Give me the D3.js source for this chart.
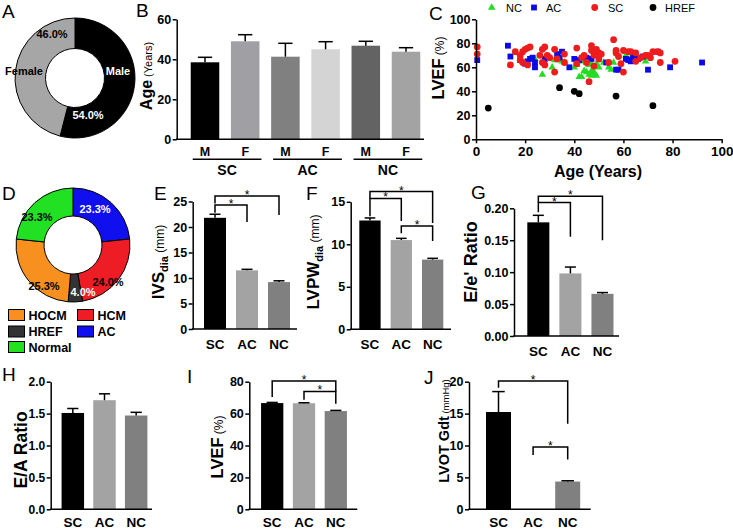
<!DOCTYPE html>
<html>
<head>
<meta charset="utf-8">
<script src="https://cdn.jsdelivr.net/npm/d3@7"></script>
<style>
  body { margin: 0; background: #fff; }
  svg { display: block; }
  text { font-family: "Liberation Sans", Arial, sans-serif; fill: #000; }
</style>
</head>
<body>
<script>
// ---------- data ----------
// A: sex distribution
var sexNames = ["Male", "Female"];
var sexPct = [54.0, 46.0];

// B: age by group and sex
var ageGroups = ["SC", "AC", "NC"];
var ageBars = ["SC-M", "SC-F", "AC-M", "AC-F", "NC-M", "NC-F"];
var ageSex = ["M", "F", "M", "F", "M", "F"];
var ageMean = [38.5, 49.0, 41.3, 45.0, 46.8, 43.8];
var ageSem = [2.5, 3.3, 6.7, 3.8, 2.2, 2.0];
var ageTicks = [0, 20, 40, 60];

// C: LVEF vs age, [age, lvef]
var ncPts = [[24,67],[27,54],[31,60],[32,66],[33,69],[35,65],[36,64],[40,60],[41,62],[42,52],[43,52],
  [43,65],[44,57],[44,68],[45,64],[45,56],[46,62],[46,54],[47,57],[47,63],[47,53],[48,56],[48,54],
  [49,53],[49,63],[50,60],[50,66],[52,64],[54,60],[55,58],[56,64],[61,70],[63,68],[67,68],[69,65]];
var acPts = [[0.5,66],[13,78],[14,69],[18,66],[20,63],[21,65],[22,67],[23,68],[24,60],[24,64],[28,67],
  [33,71],[34,68],[35,73],[38,60],[40,67],[41,65],[42,66],[45,68],[47,67],[50,69],[53,64],[57,58],
  [58,58],[61,67],[62,66],[63,65],[64,70],[64,67],[65,66],[66,67],[68,69],[70,58],[74,73],[79,60],[92,64]];
var scPts = [[0.5,77],[0.5,71],[14,62],[16,73],[18,70],[18,66],[19,73],[20,75],[19,64],[21,76],[22,77],
  [21,62],[26,70],[27,75],[28,77],[27,64],[28,62],[29,70],[30,68],[32,56],[32,75],[33,67],[36,71],
  [36,64],[41,76],[41,63],[43,68],[44,70],[45,64],[46,48],[47,78],[47,74],[48,70],[48,61],[49,75],
  [49,73],[50,72],[50,67],[51,71],[54,64],[56,83],[57,74],[57,72],[58,69],[59,63],[60,56],[60,74],
  [62,73],[63,73],[65,65],[65,72],[67,68],[69,70],[70,70],[71,68],[72,73],[74,73],[75,72],[75,64],[81,65]];
var hrefPts = [[5,26],[34,43],[40,40],[42,38],[57,36],[72,28]];
var scatterSeries = ["NC", "AC", "SC", "HREF"];
var scatterTicks = [0, 20, 40, 60, 80, 100];

// D: diagnosis distribution
var diagNames = ["AC", "HCM", "HREF", "HOCM", "Normal"];
var diagPct = [23.3, 24.0, 4.0, 25.3, 23.3];
var diagLegend = ["HOCM", "HCM", "HREF", "AC", "Normal"];

// E-J: group means and SEM
var groups = ["SC", "AC", "NC"];
var ivsMean = [21.8, 11.5, 9.2],      ivsSem = [0.7, 0.2, 0.25];
var lvpwMean = [12.8, 10.5, 8.2],     lvpwSem = [0.3, 0.2, 0.15];
var eeMean = [0.178, 0.098, 0.066],   eeSem = [0.011, 0.010, 0.002];
var eaMean = [1.51, 1.71, 1.47],      eaSem = [0.07, 0.10, 0.05];
var lvefMean = [66.6, 66.5, 61.6],    lvefSem = [0.4, 0.3, 0.4];
var lvotMean = [15.25, 0, 4.35],      lvotSem = [3.2, 0, 0.12];

// significance brackets: [from, to, bar y, left leg end, right leg end] in data units
var ivsSig  = [[0, 2, 26.1, 24.6, 22.35], [0, 1, 24.3, 22.8, 21.0]];
var lvpwSig = [[0, 2, 16.2, 15.4, 12.5], [0, 1, 15.4, 13.3, 12.75], [1, 2, 12.15, 11.3, 10.4]];
var eeSig   = [[0, 2, 0.219, 0.209, 0.15], [0, 1, 0.209, 0.194, 0.1555]];
var lvefSig = [[0, 2, 80.4, 70.4, 73.9], [1, 2, 73.9, 68.75, 66.25]];
var lvotSig = [[0, 2, 20.1, 19.06, 13.4], [1, 2, 9.78, 8.5, 7.8]];

// ---------- page ----------
var svg = d3.select("body").append("svg").attr("width", 733).attr("height", 529);

var grey3 = ["#000000", "#a3a3a3", "#808080"];

function panelLetter(s, x, y) {
  svg.append("text").attr("x", x).attr("y", y).text(s).style("font-size", "19px");
}

// rotated axis title made of parts [text, size, weight, dy]
function yTitle(cx, cy, parts) {
  var big = d3.max(parts, function(p) { return p[1]; });
  var t = svg.append("text")
    .attr("transform", "translate(" + (cx + 0.36 * big) + "," + cy + ") rotate(-90)")
    .attr("text-anchor", "middle");
  parts.forEach(function(p) {
    t.append("tspan").text(p[0])
      .style("font-size", p[1] + "px")
      .style("font-weight", p[2])
      .attr("dy", p[3] || 0);
  });
}

function styleAxis(sel, fs) {
  sel.selectAll(".domain").attr("stroke", "#000").attr("stroke-width", 1.5);
  sel.selectAll(".tick line").attr("stroke", "#000").attr("stroke-width", 1.5);
  sel.selectAll(".tick text").attr("fill", "#000")
    .style("font-size", fs + "px").style("font-weight", "bold")
    .style("font-family", "'Liberation Sans', Arial, sans-serif");
}

function donut(cx, cy, r0, r1, vals, colors) {
  var g = svg.append("g").attr("transform", "translate(" + cx + "," + cy + ")");
  var pie = d3.pie().sort(null).value(function(d) { return d; });
  var arc = d3.arc().innerRadius(r0).outerRadius(r1);
  g.selectAll("path").data(pie(vals)).join("path")
    .attr("d", arc)
    .attr("fill", function(d, i) { return colors[i]; })
    .attr("stroke", "#000").attr("stroke-width", 1);
  return g;
}

function donutLabel(g, s, dx, dy, col) {
  g.append("text").attr("x", dx).attr("y", dy).attr("text-anchor", "middle")
    .attr("dominant-baseline", "central")
    .text(s).style("font-size", "11px").style("font-weight", "bold").style("fill", col);
}

function barPanel(p) {
  var g = svg.append("g");
  var x = d3.scaleBand().domain(p.cats).range([p.b0, p.b1])
    .paddingInner(p.pad).paddingOuter(p.pad / 2);
  var y = d3.scaleLinear().domain([0, p.max]).range([p.y0, p.yTop]);
  var bw = x.bandwidth();

  g.selectAll("rect").data(p.means).join("rect")
    .attr("x", function(d, i) { return x(p.cats[i]); })
    .attr("width", bw)
    .attr("y", function(d) { return y(d); })
    .attr("height", function(d) { return p.y0 - y(d); })
    .attr("fill", function(d, i) { return p.colors[i]; });

  // upper error bars
  var cap = p.cap || bw * 0.5;
  p.means.forEach(function(m, i) {
    if (p.sems[i] <= 0) return;
    var cx = x(p.cats[i]) + bw / 2;
    g.append("line").attr("x1", cx).attr("x2", cx)
      .attr("y1", y(m)).attr("y2", y(m + p.sems[i]))
      .attr("stroke", "#000").attr("stroke-width", 1.5);
    g.append("line").attr("x1", cx - cap / 2).attr("x2", cx + cap / 2)
      .attr("y1", y(m + p.sems[i])).attr("y2", y(m + p.sems[i]))
      .attr("stroke", "#000").attr("stroke-width", 1.5);
  });

  var ya = g.append("g").attr("transform", "translate(" + p.ax + ",0)")
    .call(d3.axisLeft(y).tickValues(p.ticks).tickFormat(p.fmt)
      .tickSize(4).tickSizeOuter(0).tickPadding(1.5));
  styleAxis(ya, p.tickSize || 12.5);

  g.append("line").attr("x1", p.ax - 0.75).attr("x2", p.axEnd)
    .attr("y1", p.y0).attr("y2", p.y0)
    .attr("stroke", "#000").attr("stroke-width", 1.5);

  var xa = g.append("g").attr("transform", "translate(0," + p.y0 + ")")
    .call(d3.axisBottom(x).tickSize(0).tickPadding(p.labPad || 10).tickFormat(p.labelFn || null));
  xa.select(".domain").remove();
  styleAxis(xa, p.labelSize || 13.5);

  // significance brackets
  (p.sig || []).forEach(function(s) {
    var xa1 = x(p.cats[s[0]]) + bw / 2, xb1 = x(p.cats[s[1]]) + bw / 2;
    var path = d3.path();
    path.moveTo(xa1, y(s[3]));
    path.lineTo(xa1, y(s[2]));
    path.lineTo(xb1, y(s[2]));
    path.lineTo(xb1, y(s[4]));
    g.append("path").attr("d", path.toString()).attr("fill", "none")
      .attr("stroke", "#000").attr("stroke-width", 1.5);
    g.append("text").attr("x", (xa1 + xb1) / 2).attr("y", y(s[2]) + 3)
      .attr("text-anchor", "middle").text("*").style("font-size", "12px");
  });
  return { g: g, x: x, y: y, xa: xa };
}

// ---------- A ----------
panelLetter("A", 2, 18);
var gA = donut(75, 78, 29.5, 60, sexPct, ["#000000", "#a6a6a6"]);
donutLabel(gA, "46.0%", -23, -44, "#000");
donutLabel(gA, sexNames[1], -51, -7, "#000");
donutLabel(gA, sexNames[0], 43, -7, "#fff");
donutLabel(gA, "54.0%", 13, 37, "#fff");

// ---------- B ----------
panelLetter("B", 136, 17);
var pB = barPanel({
  cats: ageBars, means: ageMean, sems: ageSem,
  colors: ["#000000", "#a0a0a4", "#808080", "#d4d4d4", "#636363", "#a3a3a3"],
  ax: 176.7, axEnd: 424, b0: 184.9, b1: 426.1, pad: 0.29,
  y0: 139.3, yTop: 19.3, max: 60, ticks: ageTicks, fmt: d3.format("d"),
  labelSize: 12.5, labPad: 7.5,
  labelFn: function(d) { return ageSex[ageBars.indexOf(d)]; }
});
ageGroups.forEach(function(grp, k) {
  var xs = pB.x(ageBars[2 * k]) + 2, xe = pB.x(ageBars[2 * k + 1]) + pB.x.bandwidth() + 2;
  svg.append("line").attr("x1", xs).attr("x2", xe).attr("y1", 159.3).attr("y2", 159.3)
    .attr("stroke", "#000").attr("stroke-width", 1.5);
  svg.append("text").attr("x", (xs + xe) / 2).attr("y", 175).attr("text-anchor", "middle")
    .text(grp).style("font-size", "14px").style("font-weight", "bold");
});
yTitle(146.7, 76, [["Age", 16, "bold"], [" (Years)", 11, "normal"]]);

// ---------- C ----------
panelLetter("C", 429, 20);
var xC = d3.scaleLinear().domain([0, 100]).range([476, 721.7]);
var yC = d3.scaleLinear().domain([0, 100]).range([139.3, 19.3]);
var cColors = { NC: "#22dd22", AC: "#0a0ae6", SC: "#ee1c1c", HREF: "#000000" };
var cShapes = { NC: d3.symbolTriangle, AC: d3.symbolSquare, SC: d3.symbolCircle, HREF: d3.symbolCircle };
var cSizes = { NC: 24, AC: 34, SC: 36, HREF: 36 };
var cData = { NC: ncPts, AC: acPts, SC: scPts, HREF: hrefPts };
scatterSeries.forEach(function(s) {
  svg.append("g").selectAll("path").data(cData[s]).join("path")
    .attr("transform", function(d) { return "translate(" + xC(d[0]) + "," + yC(d[1]) + ")"; })
    .attr("d", d3.symbol().type(cShapes[s]).size(cSizes[s]))
    .attr("fill", cColors[s]);
});
var xaC = svg.append("g").attr("transform", "translate(0,139.3)")
  .call(d3.axisBottom(xC).tickValues(scatterTicks).tickSize(4).tickSizeOuter(0).tickPadding(3));
styleAxis(xaC, 13.5);
var yaC = svg.append("g").attr("transform", "translate(476,0)")
  .call(d3.axisLeft(yC).tickValues(scatterTicks).tickSize(4).tickSizeOuter(0).tickPadding(1.5));
styleAxis(yaC, 12.5);
yTitle(438, 68, [["LVEF", 16.5, "bold"], [" (%)", 12, "normal"]]);
svg.append("text").attr("x", 598).attr("y", 177).attr("text-anchor", "middle")
  .text("Age (Years)").style("font-size", "16px").style("font-weight", "bold");
var legX = { NC: [491.7, 506], AC: [534, 546], SC: [594.7, 608], HREF: [653, 665] };
scatterSeries.forEach(function(s) {
  svg.append("path").attr("transform", "translate(" + legX[s][0] + ",7.5)")
    .attr("d", d3.symbol().type(cShapes[s]).size(cSizes[s])).attr("fill", cColors[s]);
  svg.append("text").attr("x", legX[s][1]).attr("y", 11.5).text(s).style("font-size", "11px");
});

// ---------- D ----------
panelLetter("D", 2, 200);
var diagColors = { AC: "#1010ee", HCM: "#ee1c24", HREF: "#333333", HOCM: "#f7901e", Normal: "#22e022" };
var gD = donut(73, 245, 29, 57, diagPct, diagNames.map(function(n) { return diagColors[n]; }));
donutLabel(gD, "23.3%", -36, -28, "#000");
donutLabel(gD, "23.3%", 22, -36, "#fff");
donutLabel(gD, "24.0%", 35, 37, "#000");
donutLabel(gD, "4.0%", 10, 47, "#fff");
donutLabel(gD, "25.3%", -29, 41, "#000");
var legPos = [[8.5, 315], [77.5, 315], [8.5, 331.5], [77.5, 331.5], [8.5, 347]];
diagLegend.forEach(function(n, i) {
  svg.append("rect").attr("x", legPos[i][0]).attr("y", legPos[i][1] - 5.5)
    .attr("width", 16).attr("height", 11).attr("fill", diagColors[n])
    .attr("stroke", "#000").attr("stroke-width", 1);
  svg.append("text").attr("x", legPos[i][0] + 20).attr("y", legPos[i][1] + 4.5)
    .text(n).style("font-size", "12.5px").style("font-weight", "bold");
});

// ---------- E ----------
panelLetter("E", 154, 200);
barPanel({ cats: groups, means: ivsMean, sems: ivsSem, colors: grey3, sig: ivsSig,
  ax: 192.7, axEnd: 297, b0: 199, b1: 295, pad: 0.3125,
  y0: 329, yTop: 201.5, max: 25, ticks: [0, 5, 10, 15, 20, 25], fmt: d3.format("d") });
yTitle(157.5, 262, [["IVS", 17, "bold"], ["dia", 11, "bold", 4], [" (mm)", 12, "normal", -4]]);

// ---------- F ----------
panelLetter("F", 306, 200);
barPanel({ cats: groups, means: lvpwMean, sems: lvpwSem, colors: grey3, sig: lvpwSig,
  ax: 350.7, axEnd: 451, b0: 354.3, b1: 448.3, pad: 0.32,
  y0: 329.3, yTop: 201.8, max: 15, ticks: [0, 5, 10, 15], fmt: d3.format("d") });
yTitle(312.5, 262, [["LVPW", 17, "bold"], ["dia", 11, "bold", 4], [" (mm)", 12, "normal", -4]]);

// ---------- G ----------
panelLetter("G", 471, 199);
barPanel({ cats: groups, means: eeMean, sems: eeSem, colors: grey3, sig: eeSig,
  ax: 514, axEnd: 619, b0: 522.3, b1: 618.5, pad: 0.3125,
  y0: 336, yTop: 208.3, max: 0.2, ticks: [0, 0.05, 0.1, 0.15, 0.2], fmt: d3.format(".2f") });
yTitle(470.5, 262, [["E/e' Ratio", 18, "bold"]]);

// ---------- H ----------
panelLetter("H", 2, 381);
barPanel({ cats: groups, means: eaMean, sems: eaSem, colors: grey3, labPad: 8, tickSize: 12,
  ax: 50.7, axEnd: 152, b0: 57, b1: 152, pad: 0.29,
  y0: 509.3, yTop: 381.7, max: 2, ticks: [0, 0.5, 1, 1.5, 2], fmt: d3.format(".1f") });
yTitle(20.5, 450, [["E/A Ratio", 17.5, "bold"]]);

// ---------- I ----------
panelLetter("I", 187, 383);
barPanel({ cats: groups, means: lvefMean, sems: lvefSem, colors: grey3, sig: lvefSig, labPad: 8,
  ax: 249.3, axEnd: 357.3, b0: 256.3, b1: 351.7, pad: 0.3,
  y0: 509.3, yTop: 381.7, max: 80, ticks: [0, 20, 40, 60, 80], fmt: d3.format("d") });
yTitle(217.5, 447, [["LVEF", 16.5, "bold"], [" (%)", 12, "normal"]]);

// ---------- J ----------
panelLetter("J", 424, 384);
barPanel({ cats: groups, means: lvotMean, sems: lvotSem, colors: grey3, sig: lvotSig, labPad: 8,
  ax: 469, axEnd: 590.7, b0: 481.2, b1: 585, pad: 0.278,
  y0: 509.3, yTop: 381.7, max: 20, ticks: [0, 5, 10, 15, 20], fmt: d3.format("d") });
yTitle(444, 431, [["LVOT Gdt", 14.5, "bold"], [" (mmHg)", 9.5, "normal"]]);
</script>
</body>
</html>
